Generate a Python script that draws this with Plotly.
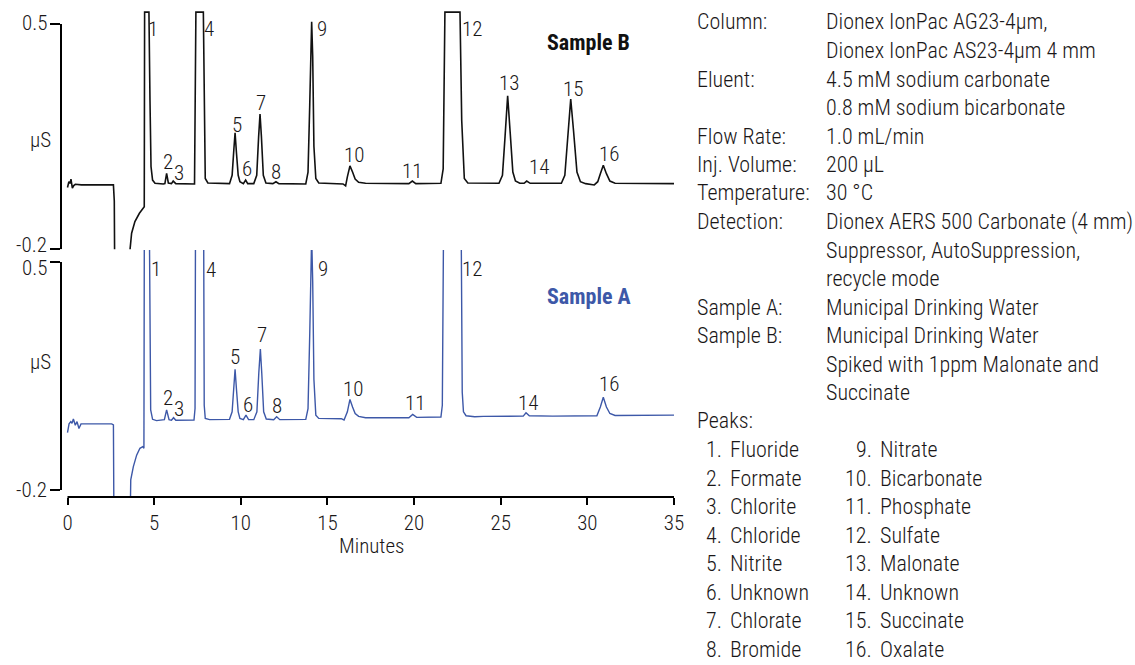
import plotly.graph_objects as go

FONT = "Roboto Condensed, Liberation Sans Narrow, DejaVu Sans Condensed, Roboto, sans-serif"
TEXT = "#1a1718"
BLUE = "#3d58a8"

# ---- Sample B (spiked) chromatogram: minutes / µS ----
time_b = [0.00, 0.08, 0.15, 0.20, 0.28, 0.36, 0.45, 0.80, 1.50, 2.65, 2.70, 2.75, 3.55, 3.61, 3.70,
          3.89, 4.15, 4.34, 4.43, 4.45, 4.70, 4.76, 4.82, 4.91, 5.05, 5.53, 5.62, 5.72, 5.82,
          6.00, 6.10, 6.25, 7.33, 7.41, 7.84, 7.95, 8.10, 9.35, 9.50, 9.60, 9.67, 9.75, 9.85,
          9.95, 10.15, 10.28, 10.40, 10.75, 10.92, 11.03, 11.11, 11.19, 11.30, 11.45, 11.85,
          12.03, 12.20, 13.75, 13.88, 13.98, 14.05, 14.09, 14.15, 14.22, 14.33, 14.50, 15.90,
          16.05, 16.15, 16.30, 16.45, 16.60, 16.80, 17.20, 19.70, 19.90, 20.10, 21.55, 21.68,
          21.78, 22.65, 22.75, 22.90, 23.10, 24.90, 25.10, 25.25, 25.40, 25.55, 25.70, 25.85,
          26.10, 26.35, 26.50, 26.70, 28.50, 28.70, 28.88, 29.04, 29.20, 29.40, 29.60, 29.90,
          30.40, 30.60, 30.75, 30.92, 31.10, 31.30, 31.60, 35.00]
signal_b = [-0.008, 0.010, 0.005, 0.018, -0.010, -0.002, 0.002, 0.000, 0.000, 0.000, -0.050, -0.500,
            -0.500, -0.200, -0.150, -0.114, -0.088, -0.076, -0.068, 0.537, 0.537, 0.264, 0.057,
            0.015, 0.005, 0.003, 0.004, 0.036, 0.006, 0.004, 0.012, 0.004, 0.003, 0.537, 0.537,
            0.020, 0.006, 0.004, 0.030, 0.110, 0.162, 0.100, 0.030, 0.010, 0.004, 0.015, 0.004,
            0.004, 0.030, 0.150, 0.220, 0.150, 0.030, 0.006, 0.004, 0.010, 0.004, 0.003, 0.040,
            0.250, 0.470, 0.507, 0.400, 0.120, 0.020, 0.006, 0.003, -0.003, 0.025, 0.059, 0.040,
            0.018, 0.008, 0.005, 0.004, 0.012, 0.004, 0.005, 0.050, 0.537, 0.537, 0.200, 0.020,
            0.006, 0.005, 0.030, 0.150, 0.277, 0.160, 0.040, 0.012, 0.005, 0.005, 0.012, 0.005,
            0.005, 0.030, 0.160, 0.267, 0.170, 0.040, 0.010, 0.004, 0.000, 0.010, 0.035, 0.061,
            0.035, 0.012, 0.005, 0.004]

# ---- Sample A (municipal drinking water) chromatogram ----
time_a = [0.00, 0.09, 0.19, 0.26, 0.34, 0.45, 0.55, 0.66, 0.78, 1.11, 2.55, 2.65, 2.70, 3.56, 3.60,
          3.65, 3.80, 3.99, 4.18, 4.34, 4.41, 4.44, 4.57, 4.70, 4.80, 4.91, 5.14, 5.59, 5.72,
          5.86, 6.00, 6.12, 6.25, 7.30, 7.36, 7.40, 7.62, 7.84, 7.89, 7.95, 8.20, 9.35, 9.50,
          9.60, 9.67, 9.75, 9.85, 9.95, 10.15, 10.30, 10.45, 10.75, 10.93, 11.04, 11.13, 11.21,
          11.32, 11.47, 11.90, 12.07, 12.25, 13.75, 13.88, 13.98, 14.05, 14.09, 14.15, 14.22,
          14.33, 14.50, 15.80, 15.96, 16.15, 16.30, 16.45, 16.60, 16.80, 17.20, 19.70, 19.92,
          20.15, 21.55, 21.63, 21.70, 22.20, 22.72, 22.78, 22.85, 23.00, 23.50, 24.00, 26.30,
          26.46, 26.65, 28.00, 30.55, 30.75, 30.92, 31.10, 31.30, 31.60, 35.00]
signal_a = [-0.024, 0.003, 0.010, 0.005, 0.018, -0.001, 0.010, -0.011, 0.003, 0.003, 0.003, 0.000,
            -0.500, -0.500, -0.221, -0.169, -0.128, -0.093, -0.072, -0.067, -0.072, 0.800, 1.200,
            0.800, 0.046, 0.017, 0.013, 0.016, 0.046, 0.016, 0.014, 0.022, 0.014, 0.015, 0.050,
            0.900, 1.500, 0.900, 0.060, 0.020, 0.016, 0.017, 0.040, 0.120, 0.171, 0.110, 0.040,
            0.020, 0.016, 0.030, 0.016, 0.016, 0.040, 0.160, 0.233, 0.160, 0.040, 0.018, 0.016,
            0.025, 0.016, 0.017, 0.050, 0.280, 0.520, 0.580, 0.440, 0.140, 0.030, 0.020, 0.019,
            0.015, 0.040, 0.078, 0.055, 0.035, 0.026, 0.022, 0.022, 0.032, 0.023, 0.024, 0.060,
            0.600, 1.500, 0.600, 0.100, 0.040, 0.028, 0.025, 0.026, 0.027, 0.037, 0.028, 0.027,
            0.028, 0.055, 0.085, 0.055, 0.035, 0.029, 0.030]

# ---- Peak number labels (minutes, µS) ----
labels_b = ["1", "2", "3", "4", "5", "6", "7", "8", "9", "10", "11", "12", "13", "14", "15", "16"]
label_time_b = [4.94, 5.78, 6.43, 8.16, 9.76, 10.34, 11.17, 12.03, 14.70, 16.53, 19.90, 23.36,
                25.49, 27.21, 29.18, 31.25]
label_val_b = [0.484, 0.072, 0.037, 0.484, 0.186, 0.050, 0.255, 0.040, 0.484, 0.093, 0.044, 0.484,
               0.316, 0.057, 0.297, 0.096]

labels_a = ["1", "2", "3", "4", "5", "6", "7", "8", "9", "10", "11", "12", "14", "16"]
label_time_a = [5.11, 5.78, 6.43, 8.26, 9.68, 10.43, 11.21, 12.07, 14.73, 16.49, 20.05, 23.32,
                26.59, 31.25]
label_val_a = [0.479, 0.083, 0.048, 0.475, 0.209, 0.061, 0.276, 0.059, 0.478, 0.109, 0.066, 0.478,
               0.068, 0.124]

x_ticks = [0, 5, 10, 15, 20, 25, 30, 35]
y_ticks = [-0.2, 0.5]
y_tick_text = ["-0.2", "0.5"]

# ---- Method conditions ----
cond_labels = ["Column:", "", "Eluent:", "", "Flow Rate:", "Inj. Volume:", "Temperature:",
               "Detection:", "", "", "Sample A:", "Sample B:", "", "", "Peaks:"]
cond_values = ["Dionex IonPac AG23-4µm,", "Dionex IonPac AS23-4µm 4 mm",
               "4.5 mM sodium carbonate", "0.8 mM sodium bicarbonate", "1.0 mL/min", "200 µL",
               "30 °C", "Dionex AERS 500 Carbonate (4 mm)", "Suppressor, AutoSuppression,",
               "recycle mode", "Municipal Drinking Water", "Municipal Drinking Water",
               "Spiked with 1ppm Malonate and", "Succinate", ""]
peak_names = ["Fluoride", "Formate", "Chlorite", "Chloride", "Nitrite", "Unknown", "Chlorate",
              "Bromide", "Nitrate", "Bicarbonate", "Phosphate", "Sulfate", "Malonate", "Unknown",
              "Succinate", "Oxalate"]

W, H = 1135, 665


def px_x(p):
    return p / W


def px_y(p):
    return 1 - p / H


def note(x, y, text, xanchor="center", size=22, color=TEXT, xref="paper", yref="paper",
         weight=300):
    return dict(x=x, y=y, xref=xref, yref=yref, text=text, xanchor=xanchor, yanchor="middle",
                showarrow=False, font=dict(family=FONT, size=size, color=color, weight=weight))


fig = go.Figure()
fig.add_trace(go.Scatter(x=time_b, y=signal_b, mode="lines", xaxis="x", yaxis="y",
                         line=dict(color="#111111", width=1.6), hoverinfo="skip"))
fig.add_trace(go.Scatter(x=time_a, y=signal_a, mode="lines", xaxis="x", yaxis="y2",
                         line=dict(color=BLUE, width=1.4), hoverinfo="skip"))

ann = []
for txt, t, v in zip(labels_b, label_time_b, label_val_b):
    ann.append(note(t, v, txt, size=21, xref="x", yref="y"))
for txt, t, v in zip(labels_a, label_time_a, label_val_a):
    ann.append(note(t, v, txt, size=21, xref="x", yref="y2"))

ann.append(note(px_x(588), px_y(43), "<b>Sample B</b>", size=22, color="#111111", weight=700))
ann.append(note(px_x(589), px_y(296), "<b>Sample A</b>", size=22, color=BLUE, weight=700))
for yy in (140, 362):
    ann.append(note(px_x(53), px_y(yy), "µS", xanchor="right", size=21))
ann.append(note(px_x(371), px_y(546), "Minutes", size=21))

# y tick labels of both panels, nudged apart where the panels meet
for txt, yy in zip(y_tick_text * 2, (245, 23, 490, 268)):
    ann.append(note(px_x(49), px_y(yy), txt, xanchor="right", size=21))

pitch = 28.5
row0 = 22
for i, (lab, val) in enumerate(zip(cond_labels, cond_values)):
    yy = px_y(row0 + pitch * i)
    if lab:
        ann.append(note(px_x(695), yy, lab, xanchor="left"))
    if val:
        ann.append(note(px_x(824), yy, val, xanchor="left"))
for i, name in enumerate(peak_names):
    col = i // 8
    row = i % 8
    yy = px_y(row0 + pitch * (15 + row))
    num_right = 724 if col == 0 else 874
    name_left = 728 if col == 0 else 878
    ann.append(note(px_x(num_right), yy, f"{i + 1}.", xanchor="right"))
    ann.append(note(px_x(name_left), yy, name, xanchor="left"))

axis_line = dict(color="#000000", width=2)
shapes = [
    dict(type="line", xref="paper", yref="y", x0=px_x(61), x1=px_x(61), y0=-0.2, y1=0.5,
         line=axis_line),
    dict(type="line", xref="paper", yref="y2", x0=px_x(61), x1=px_x(61), y0=-0.2, y1=0.5,
         line=axis_line),
    dict(type="line", xref="x", yref="paper", x0=0, x1=35, y0=px_y(497), y1=px_y(497),
         line=axis_line),
]

tick_font = dict(family=FONT, size=21, color=TEXT, weight=300)
common = dict(ticks="outside", tickwidth=2, tickcolor="#000", showgrid=False, zeroline=False,
              showline=False, tickfont=tick_font, automargin=False)
fig.update_layout(
    template="none",
    width=W, height=H, margin=dict(l=0, r=0, t=0, b=0, pad=0), autosize=False,
    paper_bgcolor="white", plot_bgcolor="white", showlegend=False,
    xaxis=dict(domain=[px_x(61), px_x(674)], range=[-0.375, 35], anchor="y2",
               tickvals=x_ticks, ticklen=7, **common),
    yaxis=dict(domain=[px_y(249.3), px_y(9.5)], range=[-0.2, 0.545], anchor="x",
               tickvals=y_ticks, ticklen=10, showticklabels=False, **common),
    yaxis2=dict(domain=[px_y(497), px_y(250)], range=[-0.2215, 0.537], anchor="x",
                tickvals=y_ticks, ticklen=10, showticklabels=False, **common),
    annotations=ann, shapes=shapes,
)

fig.write_html("out.html")
